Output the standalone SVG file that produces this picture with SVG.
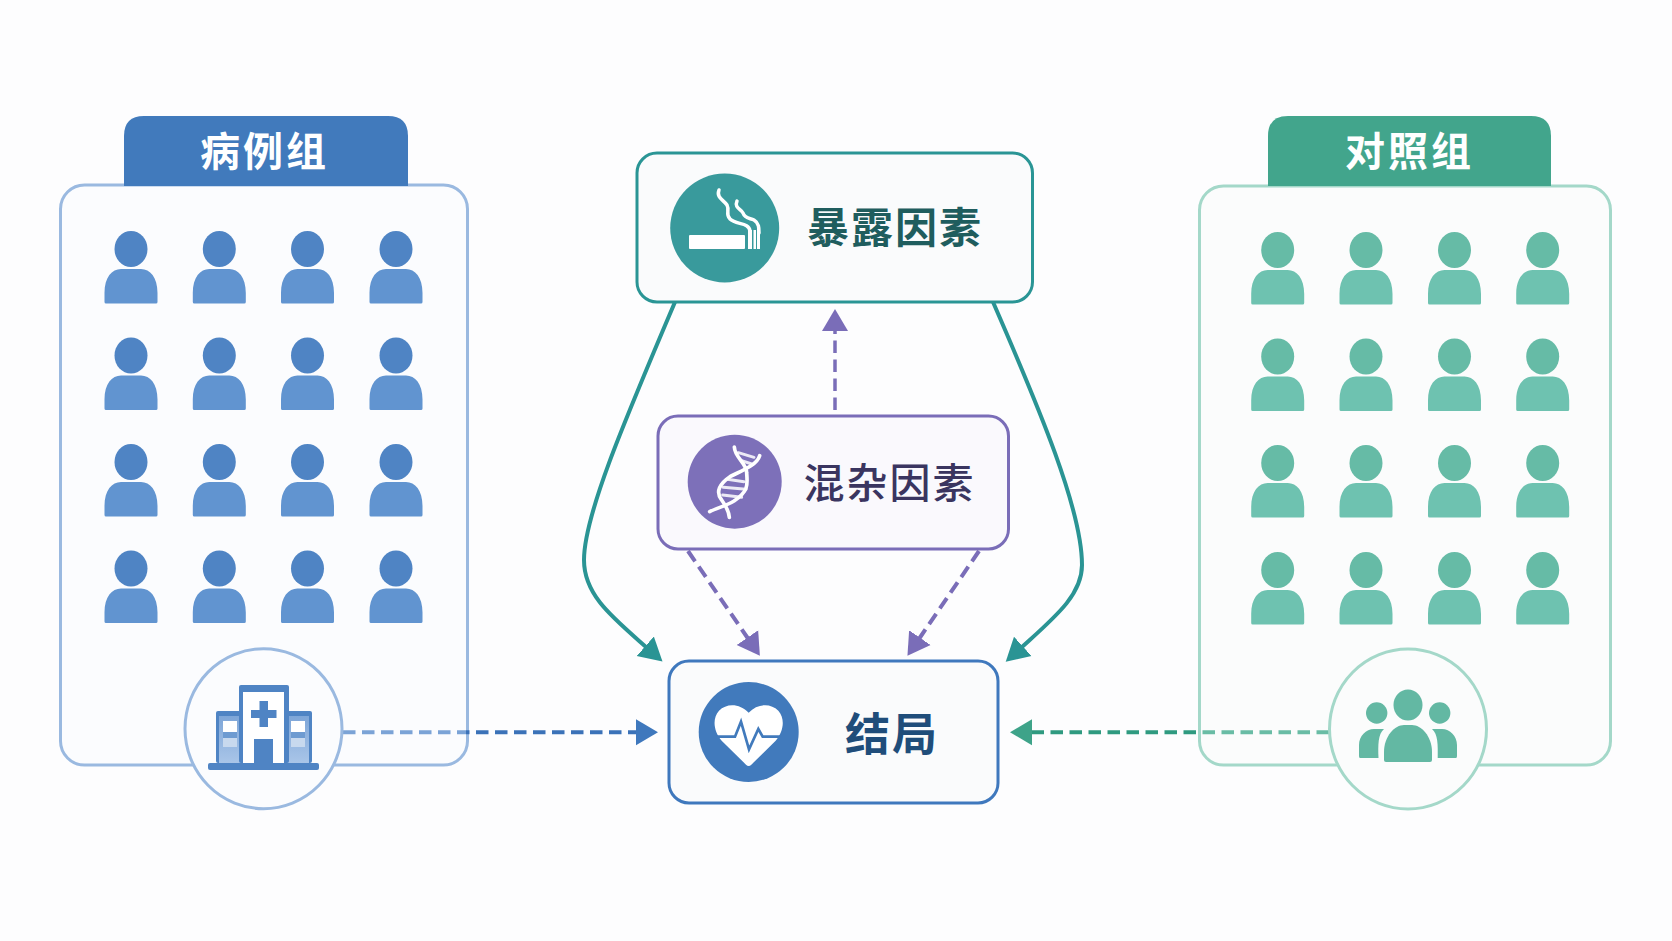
<svg xmlns="http://www.w3.org/2000/svg" width="1672" height="941" viewBox="0 0 1672 941">
<style>
text{font-family:"Noto Sans CJK SC","Noto Sans",sans-serif;font-weight:700;dominant-baseline:central}
.tab{fill:#fff;font-size:40px;letter-spacing:3px}
.lbl{font-size:42px;letter-spacing:2px}
.panel{stroke-width:3;fill:#fbfcfe}
.box{stroke-width:3;fill:#fafbfc}
.dash{fill:none;stroke-width:4;stroke-dasharray:12.5 6.5}
.solid{fill:none;stroke:#2a9494;stroke-width:4}
.bh{fill:#4f84c4}.bb{fill:#6194d0}.gh{fill:#66bba6}.gb{fill:#6ec2b0}
</style>
<defs>
<path id="body" d="M-26.500,34V24C-26.500,8 -19,0 -10,0H10C19,0 26.500,8 26.500,24V33Q26.500,34.500 25,34.500H-25Q-26.500,34.500 -26.500,33Z"/>
<g id="pb"><ellipse class="bh" cx="0" cy="0" rx="16.500" ry="18"/><use href="#body" class="bb" y="20"/></g>
<g id="pg"><ellipse class="gh" cx="0" cy="0" rx="16.500" ry="18"/><use href="#body" class="gb" y="20"/></g>
<linearGradient id="bl" gradientUnits="userSpaceOnUse" x1="343" y1="0" x2="637" y2="0"><stop offset="0" stop-color="#7ba3d6"/><stop offset=".42" stop-color="#7ba3d6"/><stop offset=".42" stop-color="#3b72b8"/><stop offset="1" stop-color="#3b72b8"/></linearGradient>
<linearGradient id="gl" gradientUnits="userSpaceOnUse" x1="1329" y1="0" x2="1031" y2="0"><stop offset="0" stop-color="#69bca5"/><stop offset=".44" stop-color="#69bca5"/><stop offset=".44" stop-color="#2f9a80"/><stop offset="1" stop-color="#2f9a80"/></linearGradient>
<linearGradient id="wing" x1="0" y1="0" x2="0" y2="1"><stop offset="0" stop-color="#7ea6d8"/><stop offset="1" stop-color="#a9c5e8"/></linearGradient>
<marker id="mb" markerUnits="userSpaceOnUse" markerWidth="24" markerHeight="28" refX="1" refY="14" orient="auto"><path d="M0,1L22,14L0,27Z" fill="#3f78bd"/></marker>
<marker id="mg" markerUnits="userSpaceOnUse" markerWidth="24" markerHeight="28" refX="1" refY="14" orient="auto"><path d="M0,1L22,14L0,27Z" fill="#3ea389"/></marker>
<marker id="mp" markerUnits="userSpaceOnUse" markerWidth="24" markerHeight="28" refX="1" refY="14" orient="auto"><path d="M0,1L22,14L0,27Z" fill="#7a6db8"/></marker>
<marker id="mt" markerUnits="userSpaceOnUse" markerWidth="25" markerHeight="28" refX="1" refY="14" orient="auto"><path d="M0,1L23,14L0,27Z" fill="#2a9494"/></marker>
</defs>
<rect width="1672" height="941" fill="#fdfdfe"/>

<g id="case-group">
<rect class="panel" x="60.500" y="185" width="407" height="580" rx="24" stroke="#9ab9e0"/>
<path d="M124,186V136Q124,116 144,116H388Q408,116 408,136V186Z" fill="#417abc"/>
<text class="tab" x="200" y="149">病例组</text>
<g id="case-people">
<use href="#pb" x="131" y="249"/><use href="#pb" x="219.300" y="249"/><use href="#pb" x="307.500" y="249"/><use href="#pb" x="396" y="249"/>
<use href="#pb" x="131" y="355.500"/><use href="#pb" x="219.300" y="355.500"/><use href="#pb" x="307.500" y="355.500"/><use href="#pb" x="396" y="355.500"/>
<use href="#pb" x="131" y="462"/><use href="#pb" x="219.300" y="462"/><use href="#pb" x="307.500" y="462"/><use href="#pb" x="396" y="462"/>
<use href="#pb" x="131" y="568.500"/><use href="#pb" x="219.300" y="568.500"/><use href="#pb" x="307.500" y="568.500"/><use href="#pb" x="396" y="568.500"/>
</g>
</g>

<g id="control-group">
<rect class="panel" x="1199.500" y="186" width="411" height="579" rx="24" stroke="#a4d8c9" style="fill:#fbfcfc"/>
<path d="M1268,186V136Q1268,116 1288,116H1531Q1551,116 1551,136V186Z" fill="#42a58c"/>
<text class="tab" x="1345" y="149">对照组</text>
<g id="control-people">
<use href="#pg" x="1277.700" y="250"/><use href="#pg" x="1366" y="250"/><use href="#pg" x="1454.500" y="250"/><use href="#pg" x="1542.700" y="250"/>
<use href="#pg" x="1277.700" y="356.500"/><use href="#pg" x="1366" y="356.500"/><use href="#pg" x="1454.500" y="356.500"/><use href="#pg" x="1542.700" y="356.500"/>
<use href="#pg" x="1277.700" y="463"/><use href="#pg" x="1366" y="463"/><use href="#pg" x="1454.500" y="463"/><use href="#pg" x="1542.700" y="463"/>
<use href="#pg" x="1277.700" y="570"/><use href="#pg" x="1366" y="570"/><use href="#pg" x="1454.500" y="570"/><use href="#pg" x="1542.700" y="570"/>
</g>
</g>

<g id="connectors">
<path class="solid" d="M675,302C625,420 584,515 584,560C584,595 612,617 646,647" marker-end="url(#mt)"/>
<path class="solid" d="M993,302C1040,410 1082,510 1082,565C1082,595 1055,617 1022,647" marker-end="url(#mt)"/>
<path class="dash" stroke="#7a6db8" d="M835,410V330" marker-end="url(#mp)" style="stroke-width:3.500"/>
<path class="dash" stroke="#7a6db8" d="M688,551L748,638.500" marker-end="url(#mp)"/>
<path class="dash" stroke="#7a6db8" d="M979,551L919.300,638.500" marker-end="url(#mp)"/>
<path class="dash" stroke="url(#bl)" d="M343,732.300H637" marker-end="url(#mb)"/>
<path class="dash" stroke="url(#gl)" d="M1329,732.300H1031" marker-end="url(#mg)"/>
</g>

<g id="hospital-badge">
<ellipse cx="263.500" cy="728.700" rx="78.500" ry="80" fill="#fbfcfe" stroke="#9ab9e0" stroke-width="3"/>
<rect x="216" y="711" width="96" height="52" rx="2" fill="#4f84c4"/>
<rect x="219" y="716" width="90" height="47" fill="url(#wing)"/>
<rect x="239" y="685" width="50" height="78" rx="2" fill="#4f84c4"/>
<rect x="243" y="692" width="41" height="71" fill="#fff"/>
<path d="M259.500,701H268V710H276.500V718H268V727H259.500V718H251V710H259.500Z" fill="#4f84c4"/>
<rect x="254" y="739" width="19" height="24" fill="#4f84c4"/>
<rect x="223" y="721" width="14" height="26" fill="#fff"/><rect x="223" y="732" width="14" height="6" fill="#6e9bd1"/><rect x="223" y="738" width="14" height="9" fill="#c8d9ee"/>
<rect x="291" y="721" width="14" height="26" fill="#fff"/><rect x="291" y="732" width="14" height="6" fill="#6e9bd1"/><rect x="291" y="738" width="14" height="9" fill="#c8d9ee"/>
<rect x="208" y="763" width="111" height="7" rx="2" fill="#4f84c4"/>
</g>

<g id="people-badge">
<ellipse cx="1408" cy="729" rx="78.500" ry="80" fill="#fbfcfc" stroke="#a4d8c9" stroke-width="3"/>
<g fill="#63b8a3">
<ellipse cx="1408" cy="705" rx="14.500" ry="15.500"/>
<circle cx="1376.700" cy="713" r="10.700"/><circle cx="1439.700" cy="713" r="10.700"/>
<path d="M1384,760V752C1384,736 1395,725 1404,725H1412C1421,725 1432,736 1432,752V760Q1432,762 1430,762H1386Q1384,762 1384,760Z"/>
<path d="M1359,756V745C1359,736 1366,729 1374,729H1384C1378,734 1378,745 1378.500,758H1360Q1359,758 1359,756Z"/>
<path d="M1457,756V745C1457,736 1450,729 1442,729H1432C1438,734 1438,745 1437.700,758H1456Q1457,758 1457,756Z"/>
</g>
</g>

<g id="exposure">
<rect class="box" x="637" y="153" width="395.500" height="149" rx="20" stroke="#2a9595"/>
<circle cx="724.700" cy="228" r="54.500" fill="#399a9c"/>
<g fill="#fff">
<rect x="689" y="235" width="56" height="14" rx="1"/>
<rect x="748" y="230" width="4" height="19"/><rect x="753.500" y="230" width="2.500" height="19"/><rect x="757" y="225" width="3" height="24"/>
</g>
<g fill="none" stroke="#fff" stroke-width="3.500" stroke-linecap="round">
<path d="M719,190C716,198 724,200 727,205C730,211 725,214 730,219C736,225 749,222 750,231"/>
<path d="M737,201C734,208 741,209 743,213C745,219 750,218 754,220C759,223 759,228 759,233"/>
</g>
<text class="lbl" x="807" y="224" fill="#1f5d5e">暴露因素</text>
</g>

<g id="confounder">
<rect class="box" x="658" y="416" width="350.500" height="133" rx="20" stroke="#7a6db8" style="fill:#faf9fd"/>
<circle cx="734.700" cy="481.700" r="47" fill="#7d70b9"/>
<g transform="translate(640,400) scale(.33333)" fill="none" stroke="#fff" stroke-linecap="round">
<g stroke-width="9" opacity=".85">
<path d="M295,158L342,172M305,182L335,192M262,238L312,245M250,262L318,268M248,285L305,292"/>
</g>
<g stroke-width="11">
<path d="M283,141C284,172 320,190 320,218C322,252 328,272 282,303C258,318 232,323 209,335"/>
<path d="M359,167C350,197 300,214 270,230C240,250 225,275 245,300C256,315 266,330 268,352"/>
</g>
</g>
<text class="lbl" x="803.500" y="480" fill="#3a3560" style="font-size:41px;font-weight:500">混杂因素</text>
</g>

<g id="outcome">
<rect class="box" x="669" y="661" width="329" height="142" rx="20" stroke="#3f78bd"/>
<circle cx="748.700" cy="732" r="50" fill="#417abc"/>
<g transform="translate(570,620) scale(.33333)">
<path d="M536,278C510,250 470,248 447,272C425,298 432,335 455,362L528,434Q536,442 544,434L617,362C640,335 647,298 625,272C602,248 562,250 536,278Z" fill="#fff"/>
<path d="M440,350H495L513,305L537,388L565,327L578,350H632" fill="none" stroke="#417abc" stroke-width="8"/>
</g>
<text class="lbl" x="845" y="731" fill="#1f4d7a" style="font-size:45px">结局</text>
</g>
</svg>
